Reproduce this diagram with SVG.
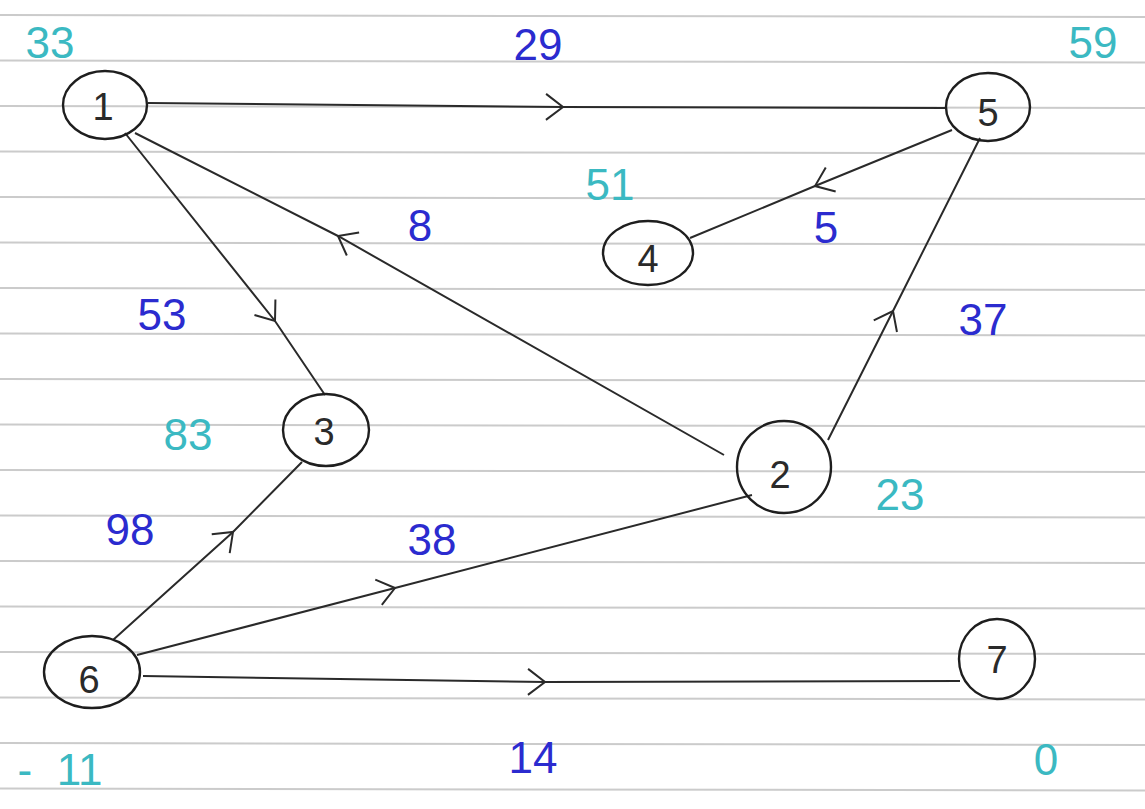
<svg xmlns="http://www.w3.org/2000/svg" width="1145" height="809" viewBox="0 0 1145 809">
<style>
.rule{stroke:#cbcbcb;stroke-width:2}
.node ellipse{fill:none;stroke:#1e1e1e;stroke-width:2.4}
.node text{font-family:"Liberation Sans",Arial,sans-serif;font-size:38px;fill:#2a2a2a;text-anchor:middle;dominant-baseline:central}
.edge{fill:none;stroke:#2a2a2a;stroke-width:2;marker-mid:url(#chev)}
.w{font-family:"Liberation Sans",Arial,sans-serif;font-size:44px;fill:#2b2bcf;text-anchor:middle}
.d{font-family:"Liberation Sans",Arial,sans-serif;font-size:44px;fill:#3bb9c2;text-anchor:middle}
</style>
<defs>
<marker id="chev" markerUnits="userSpaceOnUse" viewBox="-20 -16 24 32" markerWidth="24" markerHeight="32" refX="0" refY="0" orient="auto">
<path d="M-17,-13 L0,0 L-17,13" fill="none" stroke="#2a2a2a" stroke-width="2"/>
</marker>
</defs>
<rect width="1145" height="809" fill="#ffffff"/>
<g id="paper">
<line class="rule" x1="0" y1="15" x2="1145" y2="17"/>
<line class="rule" x1="0" y1="60.5" x2="1145" y2="62.5"/>
<line class="rule" x1="0" y1="106" x2="1145" y2="108"/>
<line class="rule" x1="0" y1="151.5" x2="1145" y2="153.5"/>
<line class="rule" x1="0" y1="197" x2="1145" y2="199"/>
<line class="rule" x1="0" y1="242.5" x2="1145" y2="244.5"/>
<line class="rule" x1="0" y1="288" x2="1145" y2="290"/>
<line class="rule" x1="0" y1="333.5" x2="1145" y2="335.5"/>
<line class="rule" x1="0" y1="379" x2="1145" y2="381"/>
<line class="rule" x1="0" y1="424.5" x2="1145" y2="426.5"/>
<line class="rule" x1="0" y1="470" x2="1145" y2="472"/>
<line class="rule" x1="0" y1="515.5" x2="1145" y2="517.5"/>
<line class="rule" x1="0" y1="561" x2="1145" y2="563"/>
<line class="rule" x1="0" y1="606.5" x2="1145" y2="608.5"/>
<line class="rule" x1="0" y1="652" x2="1145" y2="654"/>
<line class="rule" x1="0" y1="697.5" x2="1145" y2="699.5"/>
<line class="rule" x1="0" y1="743" x2="1145" y2="745"/>
<line class="rule" x1="0" y1="788.5" x2="1145" y2="790.5"/>
</g>
<g id="connectors">
<path class="edge" d="M148,103 L563,107 L947,108"/>
<path class="edge" d="M952,130 L815,186 L690,238"/>
<path class="edge" d="M724,455 L338,236 L135,133"/>
<path class="edge" d="M125,133 L275,321 L325,395"/>
<path class="edge" d="M828,440 L893,311 L980,138"/>
<path class="edge" d="M113,640 L233,532 L302,462"/>
<path class="edge" d="M137,655 L395,588 L752,495"/>
<path class="edge" d="M143,676 L545,682 L960,681"/>
</g>
<g id="n1" class="node"><ellipse cx="105" cy="105" rx="42" ry="34"/><text x="103" y="107">1</text></g>
<g id="n5" class="node"><ellipse cx="988" cy="107" rx="42" ry="34"/><text x="988" y="113">5</text></g>
<g id="n4" class="node"><ellipse cx="648" cy="253" rx="45" ry="32"/><text x="648" y="259">4</text></g>
<g id="n3" class="node"><ellipse cx="326" cy="430" rx="43" ry="36"/><text x="324" y="432">3</text></g>
<g id="n2" class="node"><ellipse cx="784" cy="467" rx="47" ry="46"/><text x="780" y="475">2</text></g>
<g id="n6" class="node"><ellipse cx="92" cy="672" rx="48" ry="36"/><text x="89" y="680">6</text></g>
<g id="n7" class="node"><ellipse cx="997" cy="659" rx="38" ry="40"/><text x="997" y="660">7</text></g>
<g id="labels">
<text class="w" x="538" y="60">29</text>
<text class="w" x="420" y="241">8</text>
<text class="w" x="826" y="243">5</text>
<text class="w" x="162" y="330">53</text>
<text class="w" x="983" y="335">37</text>
<text class="w" x="130" y="545">98</text>
<text class="w" x="432" y="555">38</text>
<text class="w" x="533" y="773">14</text>
<text class="d" x="50" y="58">33</text>
<text class="d" x="1093" y="58">59</text>
<text class="d" x="610" y="200">51</text>
<text class="d" x="188" y="450">83</text>
<text class="d" x="900" y="510">23</text>
<text class="d" x="60" y="785" xml:space="preserve">-  11</text>
<text class="d" x="1046" y="775">0</text>
</g>
</svg>
